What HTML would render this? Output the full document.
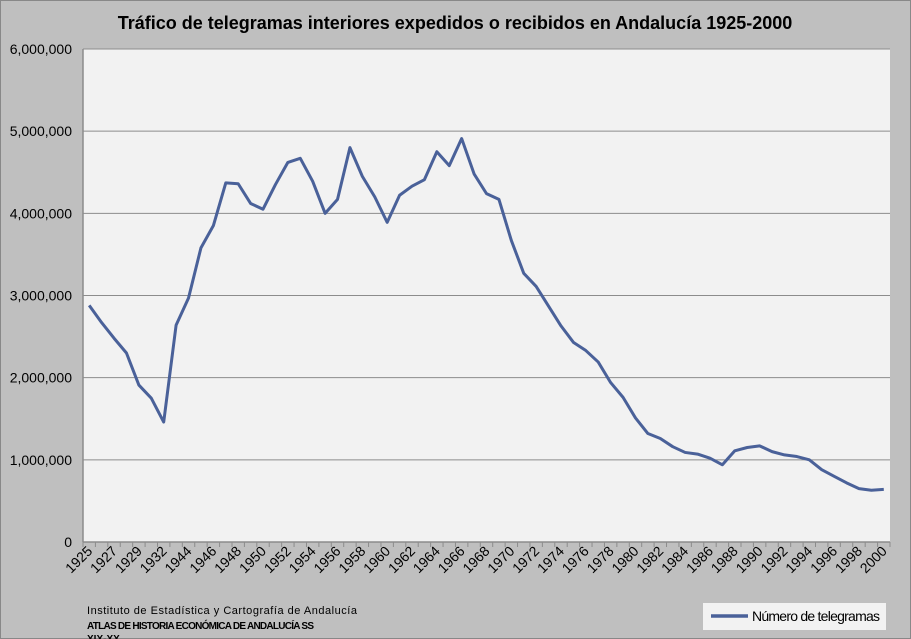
<!DOCTYPE html>
<html><head><meta charset="utf-8"><style>
body{margin:0;background:#fff}
svg{display:block;font-family:"Liberation Sans",sans-serif}
</style></head><body>
<svg id="c" width="911" height="639">
<rect x="0.5" y="0.5" width="910" height="638" fill="#bfbfbf" stroke="#888"/>
<text x="455" y="29" text-anchor="middle" font-size="18" font-weight="bold" fill="#000">Tráfico de telegramas interiores expedidos o recibidos en Andalucía 1925-2000</text>
<rect x="83" y="49" width="807" height="493" fill="#f2f2f2"/>
<g id="grid"></g><g id="axes"></g><g id="series"></g>
<text x="87" y="614" font-size="11" fill="#000" textLength="270">Instituto de Estadística y Cartografía de Andalucía</text>
<text x="87" y="629" font-size="10" font-weight="bold" fill="#000" textLength="227">ATLAS DE HISTORIA ECONÓMICA DE ANDALUCÍA SS</text>
<text x="87" y="642" font-size="10" font-weight="bold" fill="#000">XIX-XX</text>
<g>
<rect x="703" y="603" width="183" height="27" fill="#f2f2f2"/>
<line x1="711" y1="616" x2="748" y2="616" stroke="#4a6199" stroke-width="3.5"/>
<text x="752" y="621" font-size="14" fill="#000" textLength="128">Número de telegramas</text>
</g>
</svg>
<script>
const years=["1925","1926","1927","1928","1929","1930","1932","1943","1944","1945","1946","1947","1948","1949","1950","1951","1952","1953","1954","1955","1956","1957","1958","1959","1960","1961","1962","1963","1964","1965","1966","1967","1968","1969","1970","1971","1972","1973","1974","1975","1976","1977","1978","1979","1980","1981","1982","1983","1984","1985","1986","1987","1988","1989","1990","1991","1992","1993","1994","1995","1996","1997","1998","1999","2000"];
const telegrams=[2880000,2670000,2480000,2300000,1910000,1750000,1460000,2640000,2970000,3580000,3850000,4370000,4360000,4120000,4050000,4350000,4620000,4670000,4390000,4000000,4170000,4800000,4450000,4200000,3890000,4220000,4330000,4410000,4750000,4580000,4910000,4480000,4240000,4170000,3670000,3270000,3110000,2870000,2630000,2430000,2330000,2190000,1940000,1760000,1510000,1320000,1260000,1160000,1090000,1070000,1020000,940000,1110000,1150000,1170000,1100000,1060000,1040000,1000000,880000,800000,720000,650000,630000,640000];
const yTicks=[0,1000000,2000000,3000000,4000000,5000000,6000000];
const NS="http://www.w3.org/2000/svg";
const L=83,R=890,T=49,B=542,yMax=6000000;
const step=(R-L)/years.length;
const xs=i=>L+step*(i+0.5);
const ys=v=>B-(v/yMax)*(B-T);
function mk(tag,attrs,parent){const e=document.createElementNS(NS,tag);for(const k in attrs)e.setAttribute(k,attrs[k]);parent.appendChild(e);return e;}
const grid=document.getElementById('grid'),axes=document.getElementById('axes'),series=document.getElementById('series');
yTicks.forEach(v=>{
 if(v>0){const g=mk('line',{x1:L,x2:R,y1:ys(v),y2:ys(v),stroke:'#8c8c8c','stroke-width':1},grid);
 
 }
 const t=mk('text',{x:72,y:ys(v)+5,'text-anchor':'end','font-size':14,fill:'#000'},axes);
 t.textContent=v.toLocaleString('en-US');
 
 
});
const ya=mk('line',{x1:L,x2:L,y1:T,y2:B,stroke:'#8c8c8c','stroke-width':1.5},axes);


const xa=mk('line',{x1:L,x2:R,y1:B,y2:B,stroke:'#8c8c8c','stroke-width':1.5},axes);


for(let i=0;i<=years.length;i++){
 const tk=mk('line',{x1:L+step*i,x2:L+step*i,y1:B,y2:B+5,stroke:'#8c8c8c'},axes);
 
 
}
years.forEach((y,i)=>{
 if(i%2)return;
 const x=xs(i);
 const t=mk('text',{x:x+4,y:B+10,'text-anchor':'end','font-size':14,fill:'#000',transform:`rotate(-45 ${x+4} ${B+10})`},axes);
 t.textContent=y;
 
 
});
const p=mk('polyline',{points:telegrams.map((v,i)=>xs(i)+','+ys(v)).join(' '),fill:'none',stroke:'#4a6199','stroke-width':3,'stroke-linejoin':'round'},series);


</script>
</body></html>
